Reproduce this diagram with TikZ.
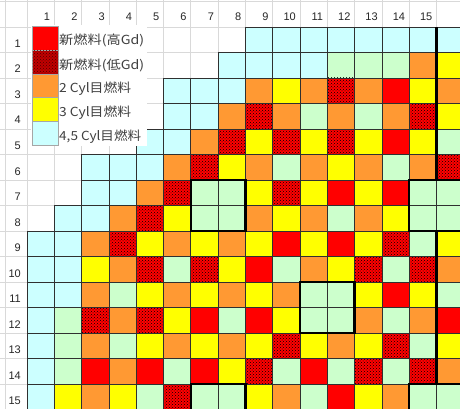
\documentclass[tikz,border=0pt]{standalone}
\usepackage{fontspec}
\usepackage{graphicx}
\setmainfont{Liberation Sans}
\newfontfamily\jpfont{Noto Sans CJK JP}
\usetikzlibrary{patterns}
\definecolor{cC}{HTML}{CCFFFF}
\definecolor{cG}{HTML}{CCFFCC}
\definecolor{cO}{HTML}{FF9933}
\definecolor{cY}{HTML}{FFFF00}
\definecolor{cR}{HTML}{FF0000}
\definecolor{cD}{HTML}{FF0000}
\definecolor{cDk}{HTML}{C00000}
\definecolor{gridgray}{HTML}{D9D9D9}
\definecolor{edgecol}{HTML}{303030}
\tikzset{
 gridl/.style={draw=gridgray, line width=0.8pt},
 celledge/.style={draw=edgecol, line width=0.7pt},
 heavy/.style={draw=black, line width=2.4pt},
 dotfill/.style={pattern=crosshatch dots, pattern color=black},
 hdr/.style={font=\fontsize{11}{12}\selectfont, text=black!85, inner sep=0pt},
 lgtext/.style={font=\jpfont\fontsize{12.5}{14}\selectfont, text=black!75, inner sep=0pt, anchor=west},
 swatch/.style={draw=black!35, line width=0.4pt},
}
\def\DD{D}
\newcommand\fuelrow[3]{%
 \foreach \code [count=\c from #2] in {#3} {%
   \pgfmathsetmacro\xl{27+(\c-1)*27.3}%
   \pgfmathsetmacro\yt{27+(#1-1)*25.5}%
   \edef\cellcol{c\code}%
   \fill[fill=\cellcol] (\xl,\yt) rectangle ++(27.3,25.5);%
   \edef\tmpcode{\code}%
   \ifx\tmpcode\DD \fill[dotfill] (\xl,\yt) rectangle ++(27.3,25.5);\fi
   \draw[celledge] (\xl,\yt) rectangle ++(27.3,25.5);%
 }}
\begin{document}
\begin{tikzpicture}[x=1pt,y=-1pt]
\useasboundingbox (0,0) rectangle (460,409);
\clip (0,0) rectangle (460,409);
\fill[white] (0,0) rectangle (460,409);
% spreadsheet grid
\foreach \c in {0,...,16} \draw[gridl] ({27+\c*27.3},0) -- ({27+\c*27.3},409);
\foreach \r in {0,...,15} \draw[gridl] (0,{27+\r*25.5}) -- (460,{27+\r*25.5});
\draw[gridl] (0,1.5) -- (460,1.5);
\draw[gridl] (5,0) -- (5,409);
% fuel cells
\fuelrow{1}{9}{C,C,C,C,C,C,C,C}
\fuelrow{2}{8}{C,C,C,C,G,G,G,O,Y}
\fuelrow{3}{6}{C,C,C,O,Y,O,D,O,R,Y,O}
\fuelrow{4}{6}{C,C,O,D,O,G,O,G,O,D,Y}
\fuelrow{5}{5}{C,C,O,D,Y,D,Y,D,Y,R,Y,G}
\fuelrow{6}{3}{C,C,C,O,D,Y,O,G,O,Y,O,G,O,D}
\fuelrow{7}{3}{C,C,O,D,G,G,Y,D,Y,R,Y,R,G,G}
\fuelrow{8}{2}{C,C,O,D,Y,G,G,O,Y,O,G,O,Y,G,G}
\fuelrow{9}{1}{C,C,O,D,Y,O,Y,O,Y,R,Y,R,Y,D,G,Y}
\fuelrow{10}{1}{C,C,Y,O,D,G,D,Y,R,G,O,Y,D,G,D,O}
\fuelrow{11}{1}{C,C,O,G,Y,O,Y,O,Y,O,G,G,Y,R,Y,G}
\fuelrow{12}{1}{C,G,D,O,D,Y,R,G,R,Y,G,G,O,G,O,R}
\fuelrow{13}{1}{C,G,O,G,Y,O,Y,O,Y,D,Y,O,Y,D,G,Y}
\fuelrow{14}{1}{C,G,R,O,R,G,R,Y,D,G,R,G,D,G,D,O}
\fuelrow{15}{1}{C,Y,O,Y,G,D,G,G,Y,O,G,R,Y,O,G,G}
% heavy outlines
\draw[heavy] (436.5,27) -- (436.5,180);
\draw[heavy] (436.5,231) -- (436.5,384);
\draw[heavy] (190.8,180) rectangle (245.4,231);
\draw[heavy] (409.2,180) rectangle (463.8,231);
\draw[heavy] (300,282) rectangle (354.6,333);
\draw[heavy] (190.8,384) rectangle (245.4,435);
\draw[heavy] (409.2,384) rectangle (463.8,435);
% legend
\fill[white] (31,25.5) rectangle (147,145.5);
\filldraw[swatch, fill=cR] (32,26) rectangle (58,50);
\filldraw[swatch, fill=cDk] (32,50) rectangle (58,74);
\fill[pattern=crosshatch dots, pattern color=black!70!red] (32,50) rectangle (58,74);
\filldraw[swatch, fill=cO] (32,74) rectangle (58,97.5);
\filldraw[swatch, fill=cY] (32,97.5) rectangle (58,121);
\filldraw[swatch, fill=cC] (32,121) rectangle (58,145);
\node[lgtext] (lg1) at (59,40.5) {\resizebox{85pt}{\height}{新燃料(高Gd)}};
\node[lgtext] (lg2) at (59,65) {\resizebox{85pt}{\height}{新燃料(低Gd)}};
\node[lgtext] (lg3) at (59,89) {\resizebox{72pt}{\height}{2 Cyl目燃料}};
\node[lgtext] (lg4) at (59,113) {\resizebox{72pt}{\height}{3 Cyl目燃料}};
\node[lgtext] (lg5) at (59,137) {\resizebox{82pt}{\height}{4,5 Cyl目燃料}};
% headers
\foreach \c in {1,...,15} \node[hdr, anchor=base east] (ch\c) at ({27+\c*27.3-4},21) {\c};
\foreach \r in {1,...,15} \node[hdr, anchor=base east] (rh\r) at (21,{27+\r*25.5-5}) {\r};
\end{tikzpicture}
\end{document}
